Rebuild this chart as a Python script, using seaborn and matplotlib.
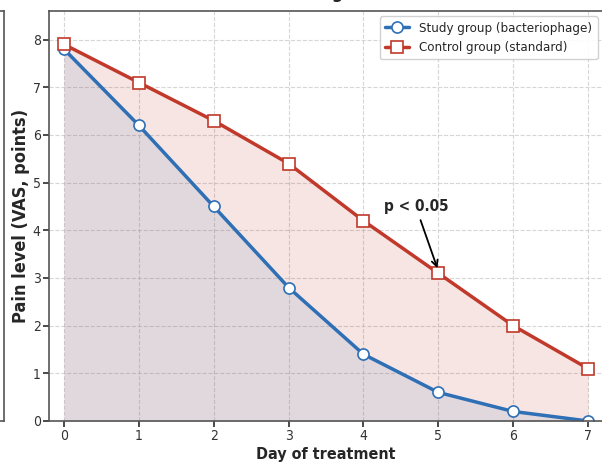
import numpy as np
import pandas as pd
import matplotlib
matplotlib.use('Agg')
import matplotlib.pyplot as plt
import seaborn as sns

# Pain level (VAS) by day of treatment
days = [0, 1, 2, 3, 4, 5, 6, 7]
study_vas = [7.8, 6.2, 4.5, 2.8, 1.4, 0.6, 0.2, 0.0]
control_vas = [7.9, 7.1, 6.3, 5.4, 4.2, 3.1, 2.0, 1.1]
study_label = 'Study group (bacteriophage)'
control_label = 'Control group (standard)'

blue = '#2e6fb5'
red = '#c0392b'

sns.set_theme(style='ticks')
plt.rcParams['font.family'] = ['DejaVu Sans']
plt.rcParams['font.stretch'] = 'condensed'

df = pd.DataFrame({'day': days, 'study': study_vas, 'control': control_vas})

fig = plt.figure(figsize=(6.02, 4.66), dpi=100)

# edge of the neighbouring panel (cut off on the left)
ax0 = fig.add_axes([-0.6, 45 / 466, 0.6 + 4 / 602, 410 / 466])
ax0.set_xticks([])
ax0.set_yticks([])
for s in ax0.spines.values():
    s.set_color('#555555')
    s.set_linewidth(1.2)

ax = fig.add_axes([49 / 602, 45 / 466, 554 / 602, 410 / 466])

ax.fill_between(df['day'], df['control'], color=red, alpha=0.13, linewidth=0)
ax.fill_between(df['day'], df['study'], color=blue, alpha=0.10, linewidth=0)

sns.lineplot(data=df, x='day', y='study', ax=ax, color=blue, linewidth=2.5,
             marker='o', markersize=8, markerfacecolor='white',
             markeredgecolor=blue, markeredgewidth=1.2, label=study_label)
sns.lineplot(data=df, x='day', y='control', ax=ax, color=red, linewidth=2.5,
             marker='s', markersize=8, markerfacecolor='white',
             markeredgecolor=red, markeredgewidth=1.2, label=control_label)

ax.set_xlim(-0.2, 7.2)
ax.set_ylim(0, 8.6)
ax.set_xticks(days)
ax.set_yticks(range(0, 9))
ax.tick_params(labelsize=10, colors='#333333', length=4, pad=2)
ax.grid(True, linestyle='--', color='#cccccc', linewidth=0.8, alpha=0.8)
ax.set_xlabel('Day of treatment', fontsize=11.5, fontweight='bold', labelpad=3)
ax.set_ylabel('Pain level (VAS, points)', fontsize=13, fontweight='bold', labelpad=2)
for s in ax.spines.values():
    s.set_color('#555555')
    s.set_linewidth(1.2)

ax.annotate('p < 0.05', xy=(5, 3.15), xytext=(4.7, 4.4), ha='center',
            fontsize=11, fontweight='bold',
            arrowprops=dict(arrowstyle='->', color='black', lw=1.3))

ax.legend(loc='upper right', fontsize=9.5, frameon=True, framealpha=0.9,
          edgecolor='#cccccc', fancybox=True, handlelength=1.8,
          borderaxespad=0.4)

# title, mostly cut off above the picture
fig.text(343 / 602, 1 + 1.5 / 466, 'Pain level during treatment (VAS)',
         ha='center', va='baseline', fontsize=13, fontweight='bold')

fig.savefig('out.png', dpi=100)
